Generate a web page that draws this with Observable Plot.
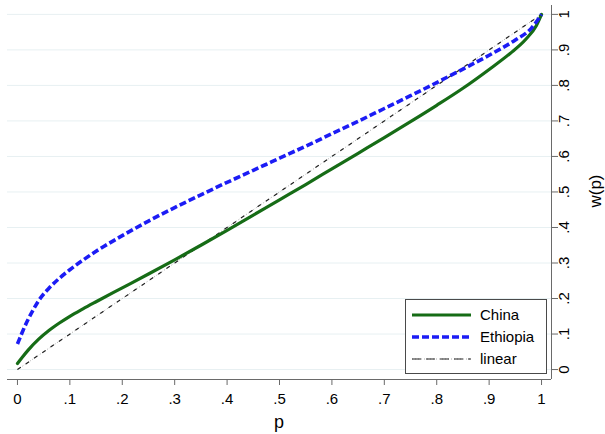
<!DOCTYPE html>
<html><head><meta charset="utf-8">
<script src="https://cdn.jsdelivr.net/npm/d3@7"></script>
<script src="https://cdn.jsdelivr.net/npm/@observablehq/plot@0.6"></script>
<style>
body{margin:0;background:#fff}
#chart{position:relative;width:605px;height:434px}
</style>
</head><body><div id="chart"></div>
<script>
// ---- data ----
const tickValues = [0,0.1,0.2,0.3,0.4,0.5,0.6,0.7,0.8,0.9,1];
const tickLabels = ["0",".1",".2",".3",".4",".5",".6",".7",".8",".9","1"];

const chinaP = [0,0.01,0.02,0.04,0.06,0.08,0.1,0.125,0.15,0.2,0.25,0.3,0.35,0.4,0.45,0.5,0.55,0.6,0.65,0.7,0.75,0.8,0.85,0.9,0.94,0.97,0.99,1];
const chinaW = [0.017,0.036,0.054,0.085,0.11,0.131,0.15,0.171,0.191,0.23,0.269,0.309,0.35,0.392,0.435,0.478,0.521,0.565,0.609,0.653,0.698,0.744,0.792,0.845,0.89,0.93,0.968,1];

const ethiopiaP = [0,0.005,0.01,0.02,0.03,0.04,0.06,0.08,0.1,0.125,0.15,0.2,0.25,0.3,0.35,0.4,0.45,0.5,0.55,0.6,0.65,0.7,0.75,0.8,0.85,0.9,0.95,0.98,1];
const ethiopiaW = [0.072,0.09,0.108,0.14,0.168,0.193,0.229,0.257,0.281,0.308,0.333,0.377,0.418,0.456,0.492,0.527,0.561,0.595,0.629,0.664,0.699,0.735,0.771,0.808,0.846,0.885,0.928,0.96,1];

const linearP = [0,1];
const linearW = [0,1];

const seriesNames = ["China","Ethiopia","linear"];

// ---- build tables ----
const china = chinaP.map((p,i)=>({p, w: chinaW[i]}));
const ethiopia = ethiopiaP.map((p,i)=>({p, w: ethiopiaW[i]}));
const linear = linearP.map((p,i)=>({p, w: linearW[i]}));
const fmt = d => tickLabels[tickValues.findIndex(t => Math.abs(t-d) < 1e-9)];

const xDom = [-0.019, 1.019];
const yDom = [-0.028, 1.025];
const axisGray = "#6a6a6a";
const green = "#166c16";
const blue = "#1c1cf5";

const plot = Plot.plot({
  width: 605, height: 434,
  marginLeft: 7, marginRight: 54, marginTop: 5, marginBottom: 55,
  style: {fontFamily: "'Liberation Sans', Arial, Helvetica, sans-serif", fontSize: "15px", background: "#fff", color: "#000"},
  x: {domain: xDom},
  y: {domain: yDom},
  marks: [
    Plot.gridY(tickValues, {stroke: "#e7f0f2", strokeOpacity: 1, strokeWidth: 1}),
    Plot.ruleY([yDom[0]], {stroke: axisGray, strokeWidth: 1}),
    Plot.ruleX([xDom[1]], {stroke: axisGray, strokeWidth: 1}),
    Plot.axisX(tickValues, {tickFormat: fmt, tickSize: 6, tickPadding: 8, stroke: axisGray, fill: "#000", label: null}),
    Plot.axisY(tickValues, {anchor: "right", tickFormat: fmt, tickSize: 6, tickPadding: 11, tickRotate: -90, stroke: axisGray, fill: "#000", label: null}),
    Plot.line(linear, {x: "p", y: "w", stroke: "#aaa", strokeWidth: 1, strokeDasharray: "1,2", strokeLinecap: "butt"}),
    Plot.line(linear, {x: "p", y: "w", stroke: "#222", strokeWidth: 1.2, strokeDasharray: "4,6", strokeLinecap: "butt"}),
    Plot.line(china, {x: "p", y: "w", stroke: green, strokeWidth: 3.2, curve: "monotone-x"}),
    Plot.line(ethiopia, {x: "p", y: "w", stroke: blue, strokeWidth: 3.6, strokeDasharray: "7,3", strokeLinecap: "butt", curve: "monotone-x"})
  ]
});
document.getElementById("chart").appendChild(plot);

// axis titles and legend
const svg = d3.select(plot);
const font = "'Liberation Sans', Arial, Helvetica, sans-serif";
svg.append("text").attr("x", 279).attr("y", 428).attr("text-anchor", "middle")
  .attr("font-family", font).attr("font-size", 18).attr("fill", "#000").text("p");
svg.append("text").attr("transform", "translate(601,191) rotate(-90)").attr("text-anchor", "middle")
  .attr("font-family", font).attr("font-size", 17).attr("fill", "#000").text("w(p)");

const lg = svg.append("g");
lg.append("rect").attr("x", 405.5).attr("y", 299.5).attr("width", 141).attr("height", 74)
  .attr("fill", "#fff").attr("stroke", "#4a4a4a").attr("stroke-width", 1);
const rowsY = [315, 337, 359];
const styles = [
  [{stroke: green, w: 3.2, dash: null}],
  [{stroke: blue, w: 3.6, dash: "7,3"}],
  [{stroke: "#aaa", w: 1, dash: "1,2"}, {stroke: "#222", w: 1.2, dash: "9,5"}]
];
seriesNames.forEach((name, i) => {
  styles[i].forEach(s => {
    const l = lg.append("line").attr("x1", 412).attr("x2", 471).attr("y1", rowsY[i]).attr("y2", rowsY[i])
      .attr("stroke", s.stroke).attr("stroke-width", s.w);
    if (s.dash) l.attr("stroke-dasharray", s.dash);
  });
  lg.append("text").attr("x", 480).attr("y", rowsY[i] + 5).attr("text-anchor", "start")
    .attr("font-family", font).attr("font-size", 15).attr("fill", "#000").text(name);
});
</script>
</body></html>
